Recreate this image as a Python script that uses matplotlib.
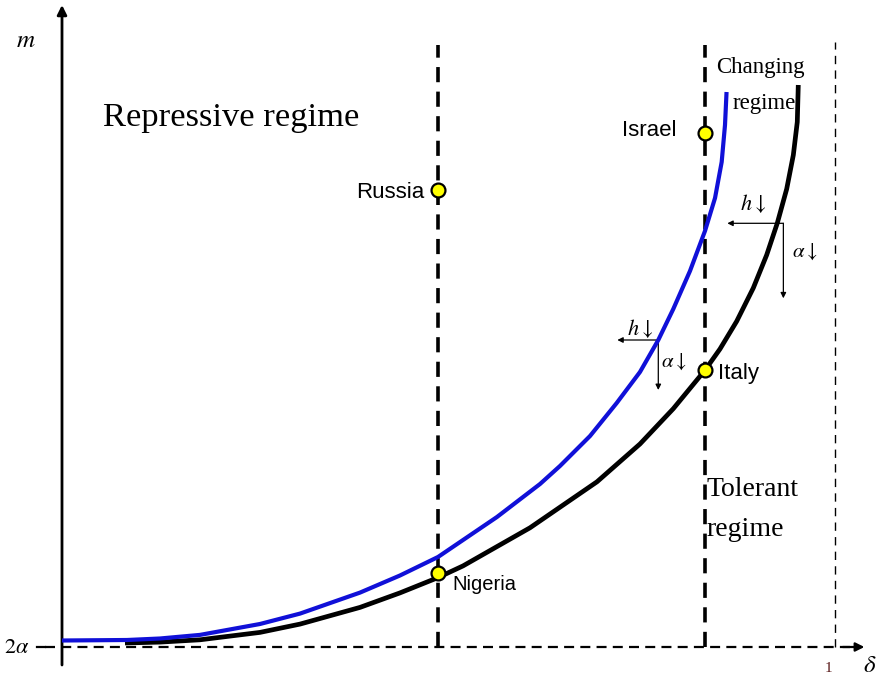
import matplotlib
matplotlib.use("Agg")
import matplotlib.pyplot as plt

# ---- data (delta on x, m above the 2alpha level on y) ----
blue_delta = [0.0000, 0.0841, 0.1268, 0.1785, 0.2561, 0.3079, 0.3855, 0.4372, 0.4864,
              0.5627, 0.6184, 0.6442, 0.6831, 0.7176, 0.7477, 0.7714, 0.7908, 0.8124,
              0.8318, 0.8448, 0.8534, 0.8577, 0.8597]
blue_m = [0.065, 0.070, 0.085, 0.121, 0.230, 0.334, 0.544, 0.715, 0.900,
          1.300, 1.630, 1.810, 2.110, 2.440, 2.750, 3.070, 3.380, 3.760,
          4.160, 4.490, 4.850, 5.220, 5.550]

black_delta = [0.0815, 0.1268, 0.1785, 0.2561, 0.3079, 0.3855, 0.4372, 0.4864, 0.5188,
               0.6054, 0.6921, 0.7477, 0.7908, 0.8318, 0.8512, 0.8728, 0.8943, 0.9116,
               0.9254, 0.9375, 0.9461, 0.9512, 0.9525]
black_m = [0.040, 0.049, 0.072, 0.146, 0.229, 0.396, 0.541, 0.694, 0.811,
           1.192, 1.652, 2.030, 2.383, 2.768, 2.980, 3.257, 3.590, 3.920,
           4.240, 4.580, 4.920, 5.250, 5.620]

country_names = ["Russia", "Israel", "Italy", "Nigeria"]
country_delta = [0.4864, 0.8318, 0.8318, 0.4864]
country_m = [4.57, 5.14, 2.77, 0.74]

regime_bounds = [0.4864, 0.8318]   # thick dashed boundaries
delta_one = 1.0

# comparative-statics arrows: anchor (delta, m) on each curve
blue_anchor = (0.7714, 3.07)
black_anchor = (0.9332, 4.237)

fig = plt.figure(figsize=(8.78, 6.82), dpi=100)
ax = fig.add_axes([0, 0, 1, 1])
ax.set_xlim(-62 / 773, 816 / 773)
ax.set_ylim(-0.35, 6.47)
ax.axis("off")

serif = ["Liberation Serif", "DejaVu Serif"]
sans = ["Liberation Sans", "DejaVu Sans"]

# vertical m axis with arrow
ax.annotate("", xy=(0, 6.42), xytext=(0, -0.18),
            arrowprops=dict(arrowstyle="-|>", lw=2.0, color="black",
                            mutation_scale=14, shrinkA=0, shrinkB=0))
# horizontal dashed delta axis
ax.plot([-17 / 773, 1.03], [0, 0], color="black", lw=1.6, linestyle=(0, (4.5, 2.8)))
ax.annotate("", xy=(1.038, 0), xytext=(1.01, 0),
            arrowprops=dict(arrowstyle="-|>", lw=1.6, color="black",
                            mutation_scale=13, shrinkA=0, shrinkB=0))

# vertical dashed lines
for d in regime_bounds:
    ax.plot([d, d], [0, 6.02], color="black", lw=2.6, linestyle=(0, (4.2, 2.6)))
ax.plot([delta_one, delta_one], [0, 6.05], color="black", lw=1.0, linestyle=(0, (6, 4.5)))

# curves
ax.plot(black_delta, black_m, color="black", lw=3.4, solid_capstyle="butt",
        solid_joinstyle="round", zorder=3)
ax.plot(blue_delta, blue_m, color="#1010d8", lw=3.0, solid_capstyle="butt",
        solid_joinstyle="round", zorder=4)

# countries
ax.plot(country_delta, country_m, linestyle="none", marker="o", markersize=10,
        markerfacecolor="#ffff00", markeredgecolor="black", markeredgewidth=1.6, zorder=6)
label_style = {"Russia": (-14, -2, "right", 16), "Israel": (-28, 2, "right", 16),
               "Italy": (13, -4, "left", 16), "Nigeria": (14, -12, "left", 14.5)}
for name, d, m in zip(country_names, country_delta, country_m):
    dx, dy, ha, fs = label_style[name]
    ax.annotate(name, (d, m), xytext=(dx, dy), textcoords="offset pixels",
                ha=ha, va="center", fontsize=fs, family=sans)

arrow_kw = dict(arrowstyle="-|>", lw=0.9, color="black", mutation_scale=8,
                shrinkA=0, shrinkB=0)
for (ad, am), hlen, vlen, hlab, alab in [
        (blue_anchor, 0.053, 0.50, (-0.0237, 0.12), (0.003, -0.217)),
        (black_anchor, 0.0725, 0.75, (-0.039, 0.20), (0.011, -0.29))]:
    ax.annotate("", xy=(ad - hlen, am), xytext=(ad, am), arrowprops=arrow_kw)
    ax.annotate("", xy=(ad, am - vlen), xytext=(ad, am), arrowprops=arrow_kw)
    ax.text(ad + hlab[0], am + hlab[1], r"$h\downarrow$", fontsize=16,
            ha="center", va="center", math_fontfamily="stix")
    ax.text(ad + alab[0], am + alab[1], r"$\alpha\downarrow$", fontsize=15,
            ha="left", va="center", math_fontfamily="stix")

# region texts
ax.text(41 / 773, 5.29, "Repressive regime", fontsize=24.8, family=serif,
        ha="left", va="center")
ax.text(0.834, 1.57, "Tolerant", fontsize=20, family=serif, ha="left", va="center")
ax.text(0.834, 1.17, "regime", fontsize=20, family=serif, ha="left", va="center")
ax.text(0.846, 5.79, "Changing", fontsize=16.5, family=serif, ha="left", va="center")
ax.text(0.868, 5.44, "regime", fontsize=16.5, family=serif, ha="left", va="center")

# axis labels
ax.text(-0.047, 6.07, r"$m$", fontsize=18, ha="center", va="center", math_fontfamily="stix")
ax.text(1.045, -0.18, r"$\delta$", fontsize=18, ha="center", va="center", math_fontfamily="stix")
ax.text(-0.042, 0.0, r"$2\alpha$", fontsize=16, ha="right", va="center", math_fontfamily="stix")
ax.plot([-0.032, -0.022], [0, 0], color="black", lw=1.6)
ax.text(0.992, -0.21, "1", fontsize=11, family=serif, color="#5a1a1a", ha="center", va="center")

fig.savefig("out.png", dpi=100)
